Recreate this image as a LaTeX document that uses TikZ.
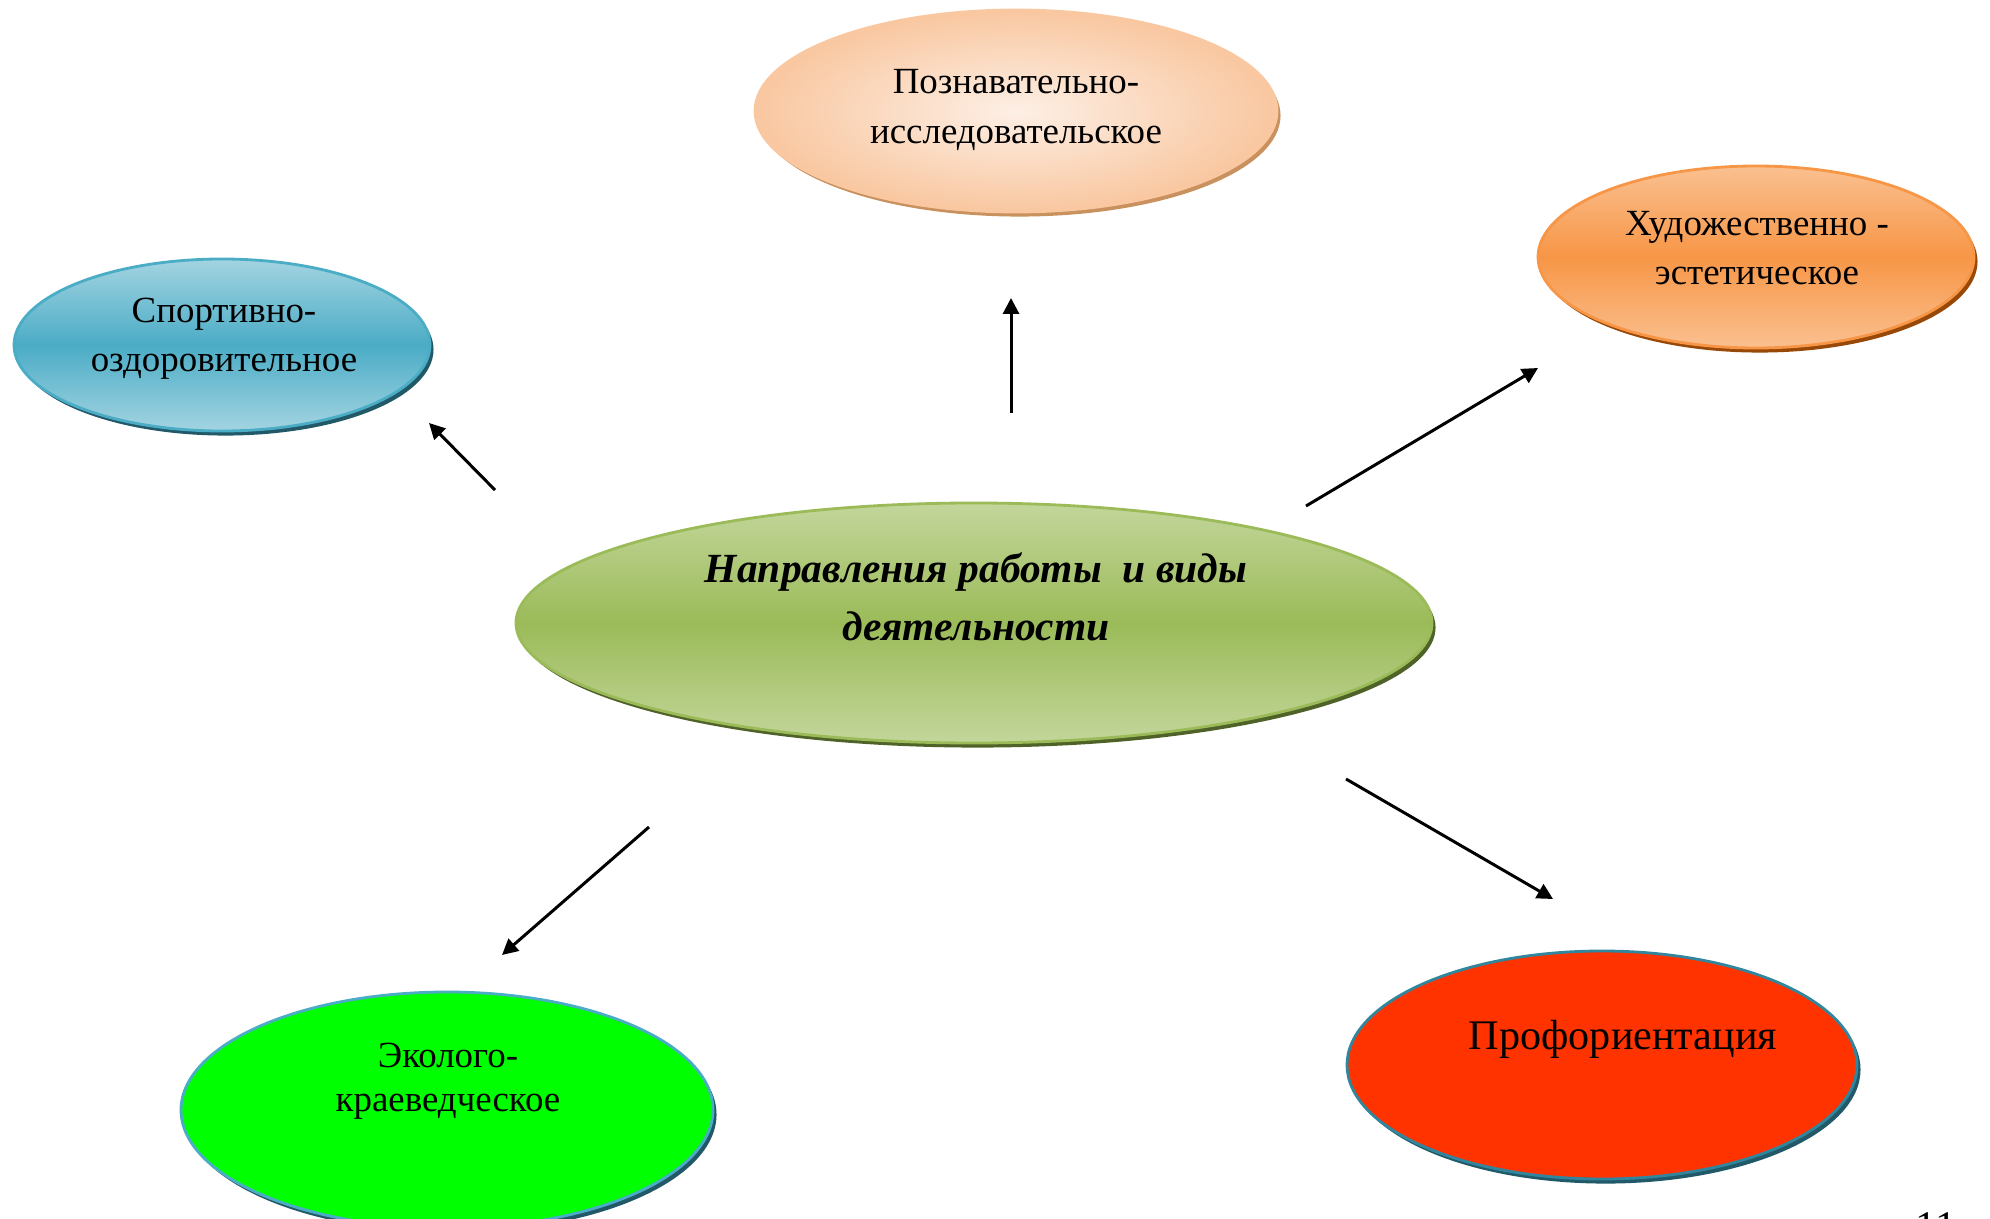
\documentclass[tikz,border=0pt]{standalone}
\usepackage{fontspec}
\setmainfont{Liberation Serif}
\usetikzlibrary{shapes.geometric,shadows,arrows.meta}

\definecolor{peachin}{HTML}{FDEFE5}
\definecolor{peachout}{HTML}{F9C7A0}
\definecolor{peachrim}{HTML}{C8915E}
\definecolor{bluelt}{HTML}{A3D4E1}
\definecolor{bluemid}{HTML}{4BACC6}
\definecolor{bluerim}{HTML}{215968}
\definecolor{orlt}{HTML}{FAC090}
\definecolor{ormid}{HTML}{F79646}
\definecolor{orrim}{HTML}{984807}
\definecolor{grlt}{HTML}{C3D69B}
\definecolor{grmid}{HTML}{9BBB59}
\definecolor{grrim}{HTML}{4F6228}
\definecolor{ecofill}{HTML}{00FF00}
\definecolor{proffill}{HTML}{FF3300}
\definecolor{tealrim}{HTML}{31859C}

\begin{document}
\begin{tikzpicture}[line width = 0.85pt,
                    ell/.style = {ellipse, inner sep = 0pt, line width = 0.8pt},
                    rim/.style = {drop shadow = {shadow xshift = 1pt, shadow yshift = -1.3pt,
                                  fill = #1, opacity = 1}},
                    txt/.style = {align = center, font = \fontsize{10.5}{14}\selectfont},
                    arr/.style = {-{Triangle[length = 4.5pt, width = 4.5pt]}}]
      \useasboundingbox (0, 0) rectangle (19.90, -12.19);

      \node [ell, rim = peachrim, draw = peachout, inner color = peachin, outer color = peachout,
             minimum width = 5.22cm, minimum height = 2.02cm] (pozn) at (10.16, -1.11){};
      \node [ell, rim = bluerim, draw = bluemid, top color = bluelt, bottom color = bluelt,
             middle color = bluemid, minimum width = 4.16cm, minimum height = 1.72cm] (sport) at (2.22, -3.45){};
      \node [ell, rim = orrim, draw = ormid, top color = orlt, bottom color = orlt,
             middle color = ormid, minimum width = 4.36cm, minimum height = 1.82cm] (hud) at (17.56, -2.57){};
      \node [ell, rim = grrim, draw = grmid, top color = grlt, bottom color = grlt,
             middle color = grmid, minimum width = 9.16cm, minimum height = 2.40cm] (dir) at (9.74, -6.23){};
      \node [ell, rim = bluerim, draw = bluemid, fill = ecofill,
             minimum width = 5.32cm, minimum height = 2.36cm] (eco) at (4.47, -11.10){};
      \node [ell, rim = bluerim, draw = tealrim, fill = proffill,
             minimum width = 5.10cm, minimum height = 2.28cm] (prof) at (16.02, -10.65){};

      \node [txt] (poznT) at (10.16, -1.10) {Познавательно-\\исследовательское};
      \node [txt] (sportT) at (2.24, -3.39) {Спортивно-\\оздоровительное};
      \node [txt] (hudT) at (17.57, -2.48) {Художественно -\\эстетическое};
      \node [txt, font = \fontsize{11.8}{16.6}\selectfont\bfseries\itshape] (dirT) at (9.76, -5.97)
            {Направления работы~ и виды\\деятельности};
      \node [txt, font = \fontsize{10.5}{12.6}\selectfont] (ecoT) at (4.48, -10.81) {Эколого-\\краеведческое};
      \node [txt, font = \fontsize{12}{14}\selectfont] (profT) at (16.23, -10.39) {Профориентация};
      \node [anchor = base, font = \fontsize{12}{14}\selectfont] (page) at (19.36, -12.40) {11};

      \coordinate (s1) at (4.95, -4.90);
      \coordinate (e1) at (4.29, -4.23);
      \coordinate (s2) at (10.11, -4.13);
      \coordinate (e2) at (10.11, -2.98);
      \coordinate (s3) at (13.06, -5.06);
      \coordinate (e3) at (15.38, -3.68);
      \coordinate (s4) at (6.49, -8.27);
      \coordinate (e4) at (5.02, -9.55);
      \coordinate (s5) at (13.46, -7.79);
      \coordinate (e5) at (15.53, -8.99);

      \draw [arr] (s1) -- (e1);
      \draw [arr] (s2) -- (e2);
      \draw [arr] (s3) -- (e3);
      \draw [arr] (s4) -- (e4);
      \draw [arr] (s5) -- (e5);

\end{tikzpicture}
\end{document}
